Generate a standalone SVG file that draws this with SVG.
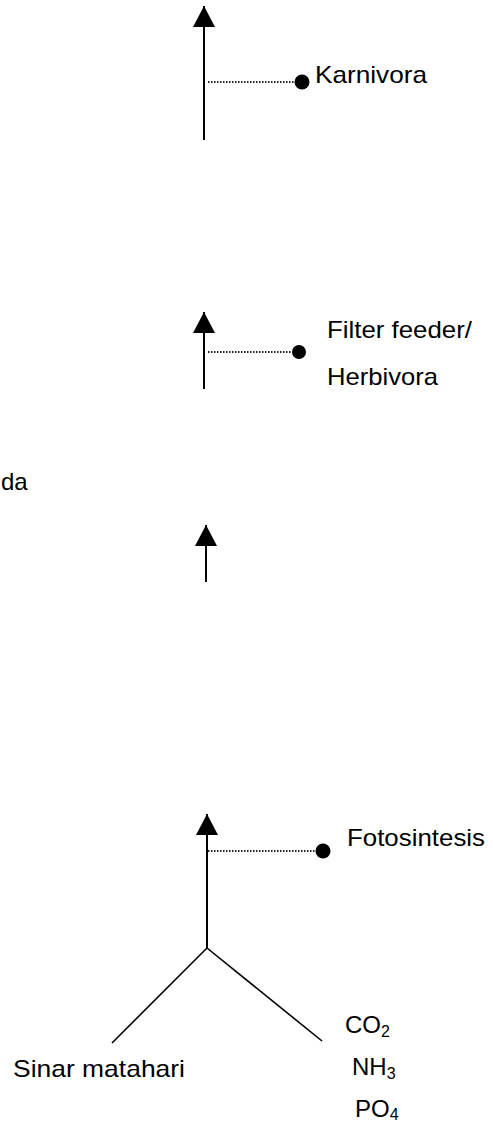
<svg xmlns="http://www.w3.org/2000/svg" width="493" height="1125" viewBox="0 0 493 1125">
<defs>
<marker id="ah" markerUnits="userSpaceOnUse" markerWidth="22" markerHeight="22" viewBox="0 0 21 21" refX="20" refY="10.5" orient="auto">
<path d="M0,0 L20,10.5 L0,21 z" fill="#000"/>
</marker>
<style>
.lbl{font-family:"Liberation Sans",Arial,sans-serif;font-size:24px;fill:#000}
.sub{font-size:16px}
.stem{stroke:#000;stroke-width:2;fill:none}
.dot{stroke:#222;stroke-width:1.8;stroke-dasharray:1.5 1.5;fill:none}
.ball{fill:#000}
</style>
</defs>
<rect width="493" height="1125" fill="#fff"/>
<g id="connectors">
<line class="stem" x1="204" y1="140" x2="204" y2="6" marker-end="url(#ah)"/>
<line class="dot" x1="208" y1="82" x2="296" y2="82"/>
<line class="stem" x1="204" y1="389" x2="204" y2="312" marker-end="url(#ah)"/>
<line class="dot" x1="208" y1="352" x2="292" y2="352"/>
<line class="stem" x1="206" y1="582" x2="206" y2="525" marker-end="url(#ah)"/>
<line class="stem" x1="207" y1="948" x2="207" y2="814" marker-end="url(#ah)"/>
<line class="dot" x1="208" y1="851" x2="317" y2="851"/>
<line class="stem" x1="207" y1="948" x2="112" y2="1043" style="stroke-width:1.6"/>
<line class="stem" x1="207" y1="948" x2="322" y2="1041" style="stroke-width:1.6"/>
</g>
<g id="node-karnivora">
<circle class="ball" cx="302" cy="82" r="7.5"/>
<text class="lbl" x="315" y="83" textLength="112" lengthAdjust="spacingAndGlyphs">Karnivora</text>
</g>
<g id="node-herbivora">
<circle class="ball" cx="299" cy="352" r="7"/>
<text class="lbl" x="327" y="338" textLength="145" lengthAdjust="spacingAndGlyphs">Filter feeder/</text>
<text class="lbl" x="327" y="385" textLength="111" lengthAdjust="spacingAndGlyphs">Herbivora</text>
</g>
<g id="node-da">
<text class="lbl" x="1" y="490">da</text>
</g>
<g id="node-fotosintesis">
<circle class="ball" cx="323" cy="851" r="7.5"/>
<text class="lbl" x="347" y="846" textLength="138" lengthAdjust="spacingAndGlyphs">Fotosintesis</text>
</g>
<g id="node-sinar">
<text class="lbl" x="13" y="1077" textLength="172" lengthAdjust="spacingAndGlyphs">Sinar matahari</text>
</g>
<g id="node-nutrients">
<text class="lbl" x="345" y="1033">CO<tspan class="sub" dy="4">2</tspan></text>
<text class="lbl" x="352" y="1075">NH<tspan class="sub" dy="4">3</tspan></text>
<text class="lbl" x="355" y="1117">PO<tspan class="sub" dy="3">4</tspan></text>
</g>
</svg>
